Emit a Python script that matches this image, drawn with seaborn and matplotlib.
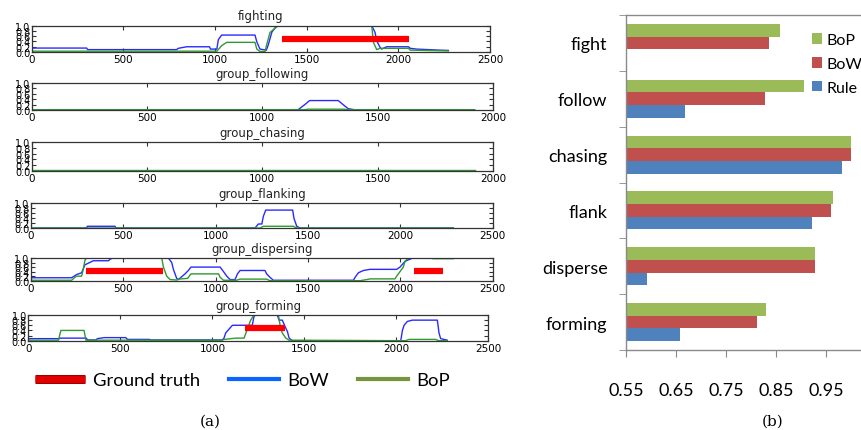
import numpy as np
import pandas as pd
import matplotlib
matplotlib.use("Agg")
import matplotlib.pyplot as plt
import matplotlib.patheffects as pe
from matplotlib.lines import Line2D
import seaborn as sns

# ---------------- (a) per-frame detection scores ----------------
panel_titles = ["fighting", "group_following", "group_chasing",
                "group_flanking", "group_dispersing", "group_forming"]
panel_xmax = [2500, 2000, 2000, 2500, 2500, 2500]

fight_bow_x = [0, 300, 305, 790, 800, 845, 970, 975, 1010, 1018, 1036, 1218, 1228, 1245, 1280,
               1290, 1310, 1336, 1855, 1873, 1882, 1900, 1909, 1936, 2055, 2065, 2100, 2227, 2273]
fight_bow_y = [0.14, 0.14, 0.08, 0.08, 0.13, 0.19, 0.19, 0.1, 0.1, 0.46, 0.64, 0.64, 0.38, 0.1, 0.06,
               0.25, 0.75, 1.0, 1.0, 0.74, 0.42, 0.17, 0.1, 0.19, 0.19, 0.13, 0.1, 0.06, 0.05]
fight_bop_x = [0, 1010, 1036, 1064, 1218, 1228, 1245, 1273, 1282, 1300, 1318, 1345,
               1855, 1864, 1882, 1900, 2055, 2065, 2273]
fight_bop_y = [0.02, 0.02, 0.23, 0.36, 0.36, 0.1, 0.01, 0.01, 0.27, 0.74, 0.85, 1.0,
               1.0, 0.36, 0.08, 0.13, 0.13, 0.06, 0.03]
fight_gt = [(1364, 2060, 0.49)]

follow_bow_x = [0, 1155, 1184, 1205, 1329, 1350, 1372, 1400, 1920]
follow_bow_y = [0.01, 0.01, 0.2, 0.35, 0.35, 0.2, 0.05, 0.01, 0.01]
follow_bop_x = [0, 1180, 1200, 1350, 1380, 1920]
follow_bop_y = [0.01, 0.01, 0.03, 0.03, 0.01, 0.01]
follow_gt = []

chase_bow_x = [0, 1920]
chase_bow_y = [0.005, 0.005]
chase_bop_x = [0, 1920]
chase_bop_y = [0.01, 0.01]
chase_gt = []

flank_bow_x = [0, 300, 305, 455, 460, 1213, 1231, 1250, 1258, 1271, 1417, 1424, 1439, 1457, 2287]
flank_bow_y = [0.01, 0.01, 0.08, 0.08, 0.01, 0.01, 0.17, 0.17, 0.47, 0.72, 0.72, 0.39, 0.08, 0.01, 0.01]
flank_bop_x = [0, 1240, 1258, 1420, 1440, 2287]
flank_bop_y = [0.01, 0.01, 0.08, 0.08, 0.01, 0.01]
flank_gt = []

disp_bow_x = [0, 220, 247, 274, 292, 338, 420, 428, 446, 744, 762, 771, 789, 798, 834, 852, 866,
              1024, 1038, 1060, 1078, 1105, 1118, 1132, 1267, 1276, 1294, 1312, 1746, 1755, 1773,
              1800, 1836, 1980, 1998, 2025, 2052, 2070, 2287]
disp_bow_y = [0.13, 0.13, 0.27, 0.35, 0.7, 0.88, 0.88, 0.95, 1.0, 1.0, 0.8, 0.5, 0.1, 0.05, 0.3, 0.45, 0.6,
              0.6, 0.45, 0.2, 0.05, 0.05, 0.3, 0.45, 0.45, 0.3, 0.15, 0.02, 0.02, 0.15, 0.35,
              0.45, 0.5, 0.5, 0.6, 0.85, 0.95, 1.0, 1.0]
disp_bop_x = [0, 220, 238, 247, 274, 283, 292, 301, 708, 717, 735, 753, 790, 798, 843, 848, 866,
              1016, 1024, 1042, 1112, 1132, 1276, 1294, 1782, 1818, 1836, 1971, 1980, 1998, 2016,
              2025, 2043, 2160, 2178, 2287]
disp_bop_y = [0.02, 0.02, 0.15, 0.2, 0.2, 0.5, 0.9, 1.0, 1.0, 0.6, 0.2, 0.05, 0.03, 0.07, 0.1, 0.1, 0.3,
              0.3, 0.15, 0.02, 0.02, 0.07, 0.07, 0.0, 0.0, 0.05, 0.08, 0.08, 0.2, 0.4, 0.6,
              0.85, 1.0, 1.0, 0.97, 0.97]
disp_gt = [(298, 713, 0.43), (2074, 2229, 0.43)]

form_bow_x = [0, 167, 172, 315, 320, 366, 375, 411, 529, 538, 656, 665, 1054, 1063, 1072, 1090, 1109,
              1217, 1226, 1235, 1353, 1362, 1380, 1395, 1408, 1417, 1435, 2024, 2033, 2042, 2060,
              2087, 2223, 2232, 2241, 2277]
form_bow_y = [0.08, 0.08, 0.1, 0.1, 0.03, 0.03, 0.08, 0.12, 0.12, 0.05, 0.05, 0.03, 0.03, 0.1, 0.3, 0.45, 0.6,
              0.6, 0.95, 1.0, 1.0, 0.8, 0.8, 0.55, 0.35, 0.1, 0.0, 0.0, 0.4, 0.6, 0.75,
              0.8, 0.8, 0.3, 0.08, 0.02]
form_bop_x = [0, 163, 176, 302, 312, 1054, 1063, 1127, 1172, 1190, 1208, 1226, 1359, 1370, 1380,
              1399, 1417, 2050, 2069, 2214, 2230, 2277]
form_bop_y = [0.02, 0.02, 0.4, 0.4, 0.02, 0.02, 0.05, 0.1, 0.1, 0.45, 0.8, 1.0, 1.0, 0.5, 0.3,
              0.1, 0.02, 0.0, 0.05, 0.05, 0.0, 0.0]
form_gt = [(1178, 1393, 0.48)]

bow_series = [(fight_bow_x, fight_bow_y), (follow_bow_x, follow_bow_y), (chase_bow_x, chase_bow_y),
              (flank_bow_x, flank_bow_y), (disp_bow_x, disp_bow_y), (form_bow_x, form_bow_y)]
bop_series = [(fight_bop_x, fight_bop_y), (follow_bop_x, follow_bop_y), (chase_bop_x, chase_bop_y),
              (flank_bop_x, flank_bop_y), (disp_bop_x, disp_bop_y), (form_bop_x, form_bop_y)]
gt_series = [fight_gt, follow_gt, chase_gt, flank_gt, disp_gt, form_gt]

# ---------------- (b) accuracy per activity ----------------
categories = ["fight", "follow", "chasing", "flank", "disperse", "forming"]
methods = ["BoP", "BoW", "Rule"]
bop_vals = [0.858, 0.906, 1.0, 0.964, 0.928, 0.830]
bow_vals = [0.835, 0.827, 1.0, 0.959, 0.927, 0.811]
rule_vals = [np.nan, 0.667, 0.982, 0.922, 0.591, 0.658]
xticks_b = [0.55, 0.65, 0.75, 0.85, 0.95]

W, H = 862, 431
fig = plt.figure(figsize=(W / 100, H / 100), dpi=100)

# panel boxes in pixels: left, right, top, bottom
boxes = [(31.7, 490, 26.7, 52.7), (31.7, 493, 84, 111), (31.7, 493, 143.3, 171.7),
         (31, 492.7, 204, 229.3), (31, 492.7, 259, 281.7), (28.5, 488.3, 316, 341.7)]

for i, (l, r, t, b) in enumerate(boxes):
    ax = fig.add_axes([l / W, 1 - b / H, (r - l) / W, (b - t) / H])
    bx, by = bow_series[i]
    gx, gy = bop_series[i]
    sns.lineplot(x=bx, y=by, ax=ax, color="#2a2aff", lw=1.0, sort=False, estimator=None)
    sns.lineplot(x=gx, y=gy, ax=ax, color="#2f9a2f", lw=1.0, sort=False, estimator=None)
    for (s, e, v) in gt_series[i]:
        sns.lineplot(x=[s, e], y=[v, v], ax=ax, color="red", lw=4.5, sort=False,
                     estimator=None, solid_capstyle="butt")
    ax.set_xlim(0, panel_xmax[i])
    ax.set_ylim(0, 1.0)
    ax.set_xticks(np.arange(0, panel_xmax[i] + 1, 500))
    ax.set_yticks(np.arange(0, 1.01, 0.2))
    ax.set_yticklabels([f"{v:.1f}" for v in np.arange(0, 1.01, 0.2)])
    ax.tick_params(axis="both", direction="in", top=True, right=True, length=3,
                   labelsize=7.5, pad=1.5, color="#333333")
    ax.tick_params(axis="y", labelsize=7, pad=1)
    ax.set_xlabel("")
    ax.set_ylabel("")
    ax.set_title(panel_titles[i], fontsize=8.5, pad=4.5, color="#222222")
    for sp in ax.spines.values():
        sp.set_color("#333333")
        sp.set_linewidth(0.9)

# legend for (a)
handles = [
    Line2D([], [], color="#e00000", lw=5, solid_capstyle="butt",
           path_effects=[pe.Stroke(linewidth=6.5, foreground="#a00000"), pe.Normal()]),
    Line2D([], [], color="#0a64ff", lw=3),
    Line2D([], [], color="#77933c", lw=3),
]
fig.legend(handles, ["Ground truth", "BoW", "BoP"], loc="center left",
           bbox_to_anchor=(35 / W, 1 - 381 / H), ncol=3, frameon=False,
           handlelength=2.7, handletextpad=0.43, columnspacing=1.6,
           borderpad=0, borderaxespad=0, prop={"family": "Lato", "size": 13.3})

fig.text(210 / W, 1 - 422 / H, "(a)", ha="center", va="center",
         family="DejaVu Serif", fontsize=11)

# ---------------- (b) bar chart ----------------
df = pd.DataFrame({
    "category": categories * 3,
    "method": ["BoP"] * 6 + ["BoW"] * 6 + ["Rule"] * 6,
    "value": bop_vals + bow_vals + rule_vals,
})

axb = fig.add_axes([626.3 / W, 1 - 351 / H, (861.5 - 626.3) / W, (351 - 16) / H])
sns.barplot(data=df, y="category", x="value", hue="method", hue_order=methods,
            order=categories, orient="h", ax=axb, width=0.68, gap=0,
            palette=["#9bbb59", "#c0504d", "#4f81bd"], saturation=1,
            edgecolor="none", errorbar=None)
axb.set_xlim(0.55, 1.0205)
axb.set_ylim(5.5, -0.5)
axb.set_xticks(xticks_b)
axb.set_xticklabels([f"{v:.2f}" for v in xticks_b])
axb.set_yticks(range(len(categories)))
axb.set_yticklabels(categories)
axb.set_yticks(np.arange(-0.5, 6, 1.0), minor=True)
axb.tick_params(axis="y", which="major", length=0, pad=13.5, labelsize=13)
axb.tick_params(axis="y", which="minor", length=5, direction="out", color="#888888")
axb.tick_params(axis="x", length=5, direction="out", color="#888888", pad=18, labelsize=13)
for lab in axb.get_xticklabels() + axb.get_yticklabels():
    lab.set_family("Lato")
axb.set_xlabel("")
axb.set_ylabel("")
for sp in axb.spines.values():
    sp.set_color("#8a8a8a")
    sp.set_linewidth(1.0)

h, lb = axb.get_legend_handles_labels()
axb.legend(h, lb, loc="upper left", bbox_to_anchor=(0.79, 0.945), frameon=False,
           handlelength=0.65, handleheight=0.65, handletextpad=0.25, labelspacing=0.6,
           borderpad=0, borderaxespad=0, prop={"family": "Lato", "size": 11.5})

fig.text(773 / W, 1 - 422 / H, "(b)", ha="center", va="center",
         family="DejaVu Serif", fontsize=11)

fig.savefig("out.png", dpi=100)
